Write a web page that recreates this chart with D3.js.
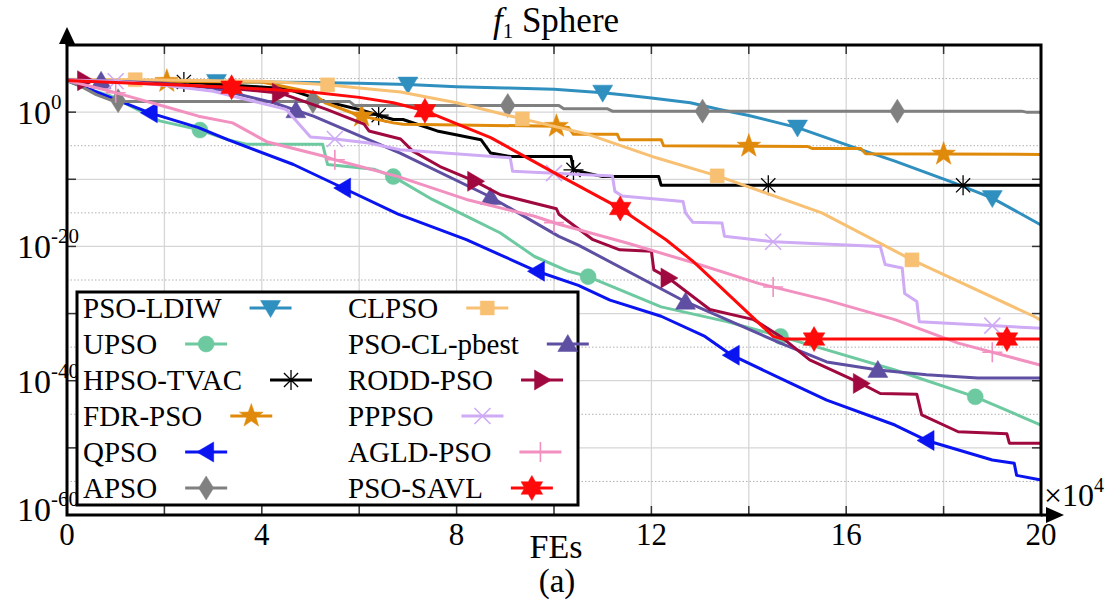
<!DOCTYPE html>
<html>
<head>
<meta charset="utf-8">
<script src="https://cdn.jsdelivr.net/npm/d3@7"></script>
<style>
  body { margin: 0; background: #fff; }
  svg { font-family: "Liberation Serif", "Times New Roman", serif; }
</style>
</head>
<body>
<svg id="chart" width="1112" height="608"></svg>
<script>
// each series: [FEs in 1e4, log10(best fitness)]
const psoLdiw = [[0,4.8],[1,4.7],[2,4.6],[3,4.5],[4,4.5],[5,4.4],[6,4.3],[7,4.1],[8,3.8],[9,3.6],[10,3.4],[11,2.9],[11.5,2.5],[12,2.1],[12.8,1.4],[13.4,0.4],[14,-0.5],[15,-2.3],[16.1,-5.1],[17,-7.3],[18.2,-10.5],[19,-12.8],[20,-16.8]];
const upso = [[0,4.7],[0.4,3.5],[0.9,2.4],[1.9,-1.3],[2.7,-2.6],[3.3,-4.1],[3.7,-4.8],[5.25,-4.8],[5.35,-7.8],[6.3,-8.5],[6.7,-9.6],[7.5,-13],[8.2,-15.5],[8.9,-18],[9.6,-21.5],[10.3,-23.7],[10.7,-24.5],[12.2,-29],[13.55,-31.2],[14.65,-33.4],[15.6,-35.4],[17,-38.4],[18.65,-42.4],[20,-46.6]];
const hpsoTvac = [[0,4.8],[2.4,4.5],[4.5,3.5],[5.3,1.6],[6,0.4],[6.7,-1.1],[6.9,-1.1],[7.6,-2.8],[8.5,-4.1],[8.7,-6.1],[9.1,-6.6],[10.35,-6.6],[10.4,-8.6],[11,-9.6],[12.15,-9.6],[12.2,-10.9],[20,-10.9]];
const fdrPso = [[0,4.8],[2,4.6],[4,4.5],[5,3.0],[5.3,1.4],[6,-0.5],[6.7,-1.6],[6.9,-1.8],[10.05,-2.1],[10.3,-2.3],[10.4,-3.3],[11.3,-3.3],[11.35,-4.1],[12.2,-4.1],[12.25,-5.0],[15.2,-5.1],[15.3,-5.4],[16.3,-5.4],[16.4,-6.2],[20,-6.3]];
const qpso = [[0,4.7],[0.47,3.4],[1.7,-0.1],[2.7,-2.3],[3.3,-4.1],[4.65,-7.8],[5.67,-11.3],[6.8,-15.2],[8.2,-19],[9.65,-23.7],[10.5,-25.8],[11.15,-28],[12.2,-30.4],[13.1,-33.4],[13.65,-36.2],[14.9,-40.5],[15.6,-42.9],[17,-46.6],[17.65,-48.9],[19,-51.8],[19.45,-52.3],[19.5,-54.1],[20,-54.8]];
const apso = [[0,4.7],[0.3,3.8],[0.6,2.6],[0.9,1.8],[1.2,1.6],[5.8,1.6],[5.9,1.0],[10.1,1.0],[10.2,0.5],[11.1,0.5],[11.2,0.15],[19.6,0.15],[19.7,0],[20,0]];
const clpso = [[0,4.9],[2,4.8],[4,4.6],[5.3,4.1],[6,3.6],[6.85,3.0],[8,1.4],[9.35,-1.0],[10.7,-3.3],[12.1,-6.8],[13.4,-9.6],[15.5,-15],[17.35,-22],[19.85,-30.4],[20,-31]];
const psoClPbest = [[0,4.8],[1,4.6],[2,4.3],[3,3.6],[4.24,1.4],[5.06,-0.6],[6.84,-6.1],[8.69,-12.6],[10.1,-18.5],[10.5,-19.8],[12.69,-28.2],[14.65,-34.4],[15.6,-37.2],[16.66,-38.4],[17.65,-39.1],[18.7,-39.6],[20,-39.6]];
const roddPso = [[0,4.8],[1,4.5],[2,4.2],[3.3,3.6],[4.4,2.8],[5.33,0.4],[6.1,-1.8],[6.2,-2.8],[6.85,-4.0],[7.1,-5.8],[7.66,-8.1],[8.38,-10.3],[8.9,-12.3],[10.05,-14.4],[10.1,-15.2],[10.8,-19],[11.35,-20.5],[12.0,-20.7],[12.05,-23.5],[12.35,-24.7],[13.2,-29.4],[14.1,-30.9],[14.65,-33.4],[15.25,-36.9],[16.3,-40.4],[16.7,-41.9],[17.45,-42.0],[17.55,-45.1],[18.3,-47.6],[19.3,-47.9],[19.35,-49.3],[20,-49.3]];
const pppso = [[0,4.8],[1,4.6],[2,4.0],[3,3.1],[4.4,0.6],[4.5,0.4],[5,-3.7],[5.5,-4.0],[6.2,-4.6],[6.84,-5.6],[9.1,-6.8],[9.15,-8.8],[11.2,-9.5],[11.25,-11.8],[11.4,-12.5],[12.65,-13.3],[12.7,-15],[12.85,-16.4],[13.45,-16.5],[13.5,-18.5],[14.5,-19.3],[16.7,-20.0],[16.8,-22.7],[17.15,-23.2],[17.2,-27],[17.45,-28.2],[17.5,-31.2],[20,-32.2]];
const agldPso = [[0,4.7],[0.9,3.1],[2.1,0.65],[2.7,-0.6],[3.4,-1.6],[4.1,-4.4],[5.3,-6.6],[5.5,-7.1],[6.8,-9.6],[8.2,-13],[9.6,-15.5],[10.1,-16.7],[11.5,-19.5],[12.9,-22.5],[14.2,-25.5],[15.6,-28],[17,-30.9],[18.3,-34.4],[20,-37.7]];
const psoSavl = [[0,4.7],[1,4.4],[2,4.1],[3.4,3.7],[5,3.0],[6,2.2],[6.7,1.4],[7.35,0.2],[8.7,-3.8],[10,-9],[11.35,-14.3],[12.3,-19],[12.85,-22.2],[13,-23.2],[14.5,-33.4],[14.7,-33.8],[20,-33.8]];

const names = ["PSO-LDIW","UPSO","HPSO-TVAC","FDR-PSO","QPSO","APSO","CLPSO","PSO-CL-pbest","RODD-PSO","PPPSO","AGLD-PSO","PSO-SAVL"];
const seriesData = [psoLdiw, upso, hpsoTvac, fdrPso, qpso, apso, clpso, psoClPbest, roddPso, pppso, agldPso, psoSavl];
const colors = ["#2f8fbf","#6dc9a0","#000000","#e08a0c","#0a14f0","#808080","#f8c072","#5e4fa3","#a0093f","#cfaaf5","#f290c0","#ff0a0a"];
const markerTypes = ["triDown","circle","asterisk","star","triLeft","diamond","square","triUp","triRight","cross","plus","hexagram"];
// x positions (1e4 FEs) of the plotted markers
const markerXs = [
  [3.07,7.0,11.0,15.0,19.0],
  [2.73,6.7,10.7,14.65,18.65],
  [2.4,6.4,10.4,14.4,18.4],
  [2.05,6.05,10.05,14.0,18.0],
  [1.7,5.67,9.65,13.65,17.65],
  [1.05,5.05,9.05,13.05,17.05],
  [1.4,5.35,9.35,13.35,17.35],
  [0.7,4.7,8.7,12.7,16.65],
  [0.37,4.37,8.38,12.35,16.3],
  [1.0,5.5,10.0,14.5,19.0],
  [1.0,5.5,10.0,14.5,19.0],
  [3.38,7.35,11.36,15.34,19.3]
];
const xTicks = [0,4,8,12,16,20];
const yTicks = [-60,-40,-20,0];

const svg = d3.select("#chart");
const pLeft = 67, pRight = 1041, pTop = 45, pBottom = 515;

const x = d3.scaleLinear().domain([0,20]).range([pLeft,pRight]);
const y = d3.scaleLinear().domain([-60,10]).range([pBottom,pTop]);

// grid
const grid = svg.append("g");
grid.selectAll(".vg").data(d3.range(2,20,2)).enter().append("line")
  .attr("x1", d => x(d)).attr("x2", d => x(d))
  .attr("y1", pTop).attr("y2", pBottom)
  .attr("stroke", "#d6d6d6").attr("stroke-width", 1.3);
grid.selectAll(".hg").data(d3.range(-50,10,10)).enter().append("line")
  .attr("x1", pLeft).attr("x2", pRight)
  .attr("y1", d => y(d)).attr("y2", d => y(d))
  .attr("stroke", "#d6d6d6").attr("stroke-width", 1.3);
grid.selectAll(".hd").data(d3.range(-55,10,10)).enter().append("line")
  .attr("x1", pLeft).attr("x2", pRight)
  .attr("y1", d => y(d)).attr("y2", d => y(d))
  .attr("stroke", "#b0b0b0").attr("stroke-width", 1).attr("stroke-dasharray", "1.5,2");

// ticks (inward, all four sides)
const tk = svg.append("g").attr("stroke", "#333").attr("stroke-width", 1.5);
d3.range(2,20,2).forEach(v => {
  tk.append("line").attr("x1", x(v)).attr("x2", x(v)).attr("y1", pBottom).attr("y2", pBottom - 9);
  tk.append("line").attr("x1", x(v)).attr("x2", x(v)).attr("y1", pTop).attr("y2", pTop + 9);
});
d3.range(-50,10,10).forEach(v => {
  tk.append("line").attr("x1", pLeft).attr("x2", pLeft + 9).attr("y1", y(v)).attr("y2", y(v));
  tk.append("line").attr("x1", pRight).attr("x2", pRight - 9).attr("y1", y(v)).attr("y2", y(v));
});

// marker shapes
function markerPath(type, s) {
  const p = d3.path();
  const poly = pts => { pts.forEach((q,i) => i ? p.lineTo(q[0],q[1]) : p.moveTo(q[0],q[1])); p.closePath(); };
  const starPts = (n, r1, r2) => d3.range(n*2).map(i => {
    const a = -Math.PI/2 + i*Math.PI/n, r = i % 2 ? r2 : r1;
    return [r*Math.cos(a), r*Math.sin(a)];
  });
  switch (type) {
    case "triDown": poly([[-s,-s*0.75],[s,-s*0.75],[0,s*0.95]]); break;
    case "triUp": poly([[-s,s*0.75],[s,s*0.75],[0,-s*0.95]]); break;
    case "triLeft": poly([[s*0.75,-s],[s*0.75,s],[-s*0.95,0]]); break;
    case "triRight": poly([[-s*0.75,-s],[-s*0.75,s],[s*0.95,0]]); break;
    case "circle": p.arc(0,0,s*0.8,0,2*Math.PI); break;
    case "square": poly([[-s*0.7,-s*0.7],[s*0.7,-s*0.7],[s*0.7,s*0.7],[-s*0.7,s*0.7]]); break;
    case "diamond": poly([[0,-s*1.2],[s*0.75,0],[0,s*1.2],[-s*0.75,0]]); break;
    case "star": poly(starPts(5, s*1.25, s*0.5)); break;
    case "hexagram": poly(starPts(6, s*1.25, s*0.72)); break;
    case "asterisk":
      for (let i = 0; i < 4; i++) { const a = i*Math.PI/4; p.moveTo(-s*Math.cos(a),-s*Math.sin(a)); p.lineTo(s*Math.cos(a),s*Math.sin(a)); }
      break;
    case "cross": p.moveTo(-s*0.8,-s*0.8); p.lineTo(s*0.8,s*0.8); p.moveTo(-s*0.8,s*0.8); p.lineTo(s*0.8,-s*0.8); break;
    case "plus": p.moveTo(-s,0); p.lineTo(s,0); p.moveTo(0,-s); p.lineTo(0,s); break;
  }
  return p.toString();
}
const strokeMarker = t => t === "asterisk" || t === "cross" || t === "plus";

function drawMarker(g, type, color, cx, cy) {
  g.append("path")
    .attr("d", markerPath(type, 10))
    .attr("transform", `translate(${cx},${cy})`)
    .attr("fill", strokeMarker(type) ? "none" : color)
    .attr("stroke", color)
    .attr("stroke-width", strokeMarker(type) ? (type === "asterisk" ? 1.3 : 1.6) : 0.5);
}

function interp(data, xv) {
  for (let i = 1; i < data.length; i++) {
    if (xv <= data[i][0]) {
      const a = data[i-1], b = data[i];
      return a[1] + (b[1]-a[1]) * (xv - a[0]) / (b[0] - a[0]);
    }
  }
  return data[data.length-1][1];
}

const line = d3.line().x(d => x(d[0])).y(d => y(d[1]));
const plot = svg.append("g");
seriesData.forEach((data, i) => {
  const g = plot.append("g");
  g.append("path").datum(data)
    .attr("d", line)
    .attr("fill", "none")
    .attr("stroke", colors[i])
    .attr("stroke-width", 3)
    .attr("stroke-linejoin", "round");
  markerXs[i].forEach(mx => drawMarker(g, markerTypes[i], colors[i], x(mx), y(interp(data, mx))));
});

// frame and arrows
svg.append("rect").attr("x", pLeft).attr("y", pTop).attr("width", pRight-pLeft).attr("height", pBottom-pTop)
  .attr("fill", "none").attr("stroke", "#000").attr("stroke-width", 3);
svg.append("line").attr("x1", pLeft).attr("x2", pLeft).attr("y1", pTop).attr("y2", 36).attr("stroke", "#000").attr("stroke-width", 3);
svg.append("path").attr("d", `M${pLeft-8},${pTop-1}L${pLeft},${27}L${pLeft+8},${pTop-1}Z`).attr("fill", "#000");
svg.append("line").attr("x1", pRight).attr("x2", 1052).attr("y1", pBottom).attr("y2", pBottom).attr("stroke", "#000").attr("stroke-width", 3);
svg.append("path").attr("d", `M${1046},${pBottom-8}L${1064},${pBottom}L${1046},${pBottom+8}Z`).attr("fill", "#000");

// tick labels
svg.selectAll(".xt").data(xTicks).enter().append("text")
  .attr("x", d => x(d)).attr("y", 545)
  .attr("text-anchor", "middle").attr("font-size", 31).text(d => d);
yTicks.forEach(v => {
  const t = svg.append("text").attr("x", 17).attr("y", y(v) + 12 - (v === -60 ? 6 : 0)).attr("font-size", 34);
  t.append("tspan").text("10");
  t.append("tspan").attr("dy", -15).attr("font-size", 21).text(v);
});
const mult = svg.append("text").attr("x", 1044).attr("y", 506).attr("font-size", 32);
mult.append("tspan").text("\u00d710");
mult.append("tspan").attr("dy", -14).attr("font-size", 20).text("4");

svg.append("text").attr("x", 556).attr("y", 558).attr("text-anchor", "middle").attr("font-size", 34).text("FEs");
svg.append("text").attr("x", 557).attr("y", 592).attr("text-anchor", "middle").attr("font-size", 33).text("(a)");
const title = svg.append("text").attr("x", 556).attr("y", 32).attr("text-anchor", "middle").attr("font-size", 35);
title.append("tspan").attr("font-style", "italic").text("f");
title.append("tspan").attr("dy", 6).attr("font-size", 21).text("1");
title.append("tspan").attr("dy", -6).text(" Sphere");

// legend
const lg = svg.append("g");
lg.append("rect").attr("x", 77).attr("y", 292).attr("width", 501).attr("height", 213)
  .attr("fill", "#fff").attr("stroke", "#000").attr("stroke-width", 3);
names.forEach((n, i) => {
  const col = Math.floor(i / 6), row = i % 6;
  const tx = col ? 348 : 83, ty = 308 + row * 36;
  const t = lg.append("text").attr("x", tx).attr("y", ty + 10).attr("font-size", 29).text(n);
  const sx = tx + t.node().getComputedTextLength() + 28;
  lg.append("line").attr("x1", sx).attr("x2", sx + 42).attr("y1", ty).attr("y2", ty)
    .attr("stroke", colors[i]).attr("stroke-width", 3);
  drawMarker(lg, markerTypes[i], colors[i], sx + 21, ty);
});
</script>
</body>
</html>
